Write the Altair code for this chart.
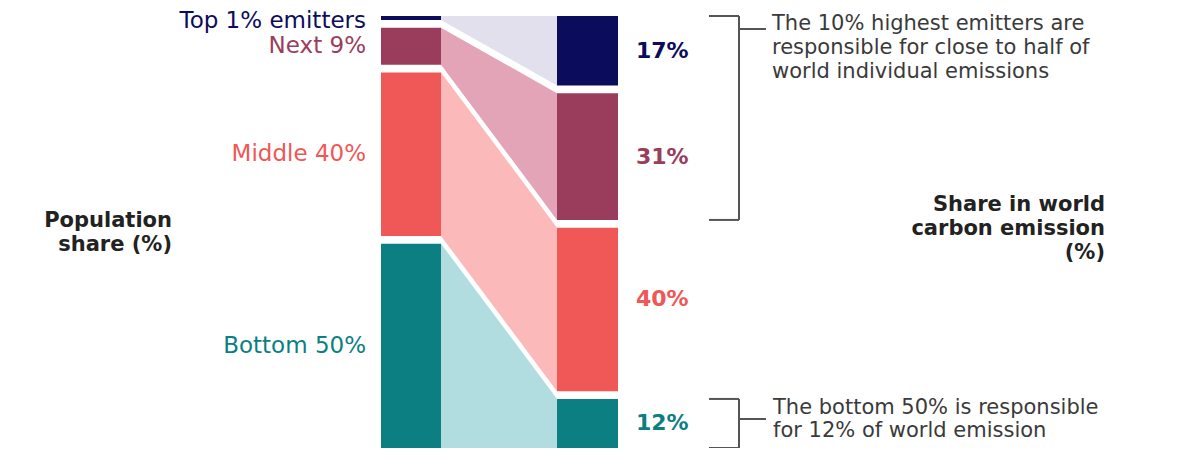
import altair as alt
import pandas as pd

# ---------------- data ----------------
groups = ["Top 1%", "Next 9%", "Middle 40%", "Bottom 50%"]
population_share = [1, 9, 40, 50]
emission_share = [17, 31, 40, 12]
group_labels = ["Top 1% emitters", "Next 9%", "Middle 40%", "Bottom 50%"]
emission_labels = ["17%", "31%", "40%", "12%"]
dark_colors = ["#0c0c5c", "#9a3d5d", "#f05757", "#0b7f82"]
light_colors = ["#e1e0ec", "#e3a4b8", "#fbbab9", "#b1dde0"]
left_title = ["Population", "share (%)"]
right_title = ["Share in world", "carbon emission", "(%)"]
note_top = ["The 10% highest emitters are",
            "responsible for close to half of",
            "world individual emissions"]
note_bottom = ["The bottom 50% is responsible",
               "for 12% of world emission"]

# ---------------- layout ----------------
W, H = 1187, 440
GAP = 1.9
TOTAL = 100 + 3 * GAP
TOP_PX = 8
K = (H - TOP_PX) / TOTAL
LEFT_X0, LEFT_X1 = 373, 433
RIGHT_X0, RIGHT_X1 = 549, 610
FONT = "DejaVu Sans"


def stack(values):
    tops, bottoms, pos = [], [], 0.0
    for v in values:
        tops.append(pos)
        bottoms.append(pos + v)
        pos += v + GAP
    return tops, bottoms


pt, pb = stack(population_share)
et, eb = stack(emission_share)

bars = pd.DataFrame(
    [dict(group=g, x0=LEFT_X0, x1=LEFT_X1, y0=pt[i], y1=pb[i],
          mid=(pt[i] + pb[i]) / 2, label=group_labels[i], side="pop")
     for i, g in enumerate(groups)]
    + [dict(group=g, x0=RIGHT_X0, x1=RIGHT_X1, y0=et[i], y1=eb[i],
            mid=(et[i] + eb[i]) / 2, label=emission_labels[i], side="emis")
       for i, g in enumerate(groups)]
)

flows = pd.DataFrame(
    [dict(group=g, x=LEFT_X1, y0=pt[i], y1=pb[i]) for i, g in enumerate(groups)]
    + [dict(group=g, x=RIGHT_X0, y0=et[i], y1=eb[i]) for i, g in enumerate(groups)]
)

brackets = pd.DataFrame([
    dict(name="top", y0=et[0], y1=eb[1]),
    dict(name="bottom", y0=et[3], y1=eb[3]),
])

xs = alt.Scale(domain=[0, W], range=[0, W])
ys = alt.Scale(domain=[-TOP_PX / K, TOTAL], reverse=True)
dark = alt.Scale(domain=groups, range=dark_colors)
light = alt.Scale(domain=groups, range=light_colors)

flow_layer = alt.Chart(flows).mark_area(opacity=1).encode(
    x=alt.X("x:Q", scale=xs, axis=None),
    y=alt.Y("y0:Q", scale=ys, axis=None, stack=None),
    y2="y1:Q",
    detail="group:N",
    color=alt.Color("group:N", scale=light, legend=None),
)

bar_layer = alt.Chart(bars).mark_rect().encode(
    x=alt.X("x0:Q", scale=xs, axis=None),
    x2="x1:Q",
    y=alt.Y("y0:Q", scale=ys, axis=None),
    y2="y1:Q",
    color=alt.Color("group:N", scale=dark, legend=None),
)

pop_base = alt.Chart(bars).transform_filter(alt.datum.side == "pop")
pop_labels = pop_base.transform_filter(alt.datum.group != groups[0]).mark_text(
    font=FONT, fontSize=23, align="right", baseline="middle"
).encode(
    x=alt.value(358),
    y=alt.Y("mid:Q", scale=ys, axis=None),
    text="label:N",
    color=alt.Color("group:N", scale=dark, legend=None),
)
pop_top_label = pop_base.transform_filter(alt.datum.group == groups[0]).mark_text(
    font=FONT, fontSize=23, align="right", baseline="middle", dy=3
).encode(
    x=alt.value(358),
    y=alt.Y("mid:Q", scale=ys, axis=None),
    text="label:N",
    color=alt.Color("group:N", scale=dark, legend=None),
)

em_base = alt.Chart(bars).transform_filter(alt.datum.side == "emis")
em_labels = em_base.transform_filter(alt.datum.group != groups[2]).mark_text(
    font=FONT, fontSize=22, fontWeight="bold", align="left", baseline="middle"
).encode(
    x=alt.value(628),
    y=alt.Y("mid:Q", scale=ys, axis=None),
    text="label:N",
    color=alt.Color("group:N", scale=dark, legend=None),
)
em_mid_label = em_base.transform_filter(alt.datum.group == groups[2]).mark_text(
    font=FONT, fontSize=22, fontWeight="bold", align="left", baseline="middle", dy=-10
).encode(
    x=alt.value(628),
    y=alt.Y("mid:Q", scale=ys, axis=None),
    text="label:N",
    color=alt.Color("group:N", scale=dark, legend=None),
)

BX = 731
RULE = dict(color="#555555", strokeWidth=2)
br_vert = alt.Chart(brackets).mark_rule(**RULE).encode(
    x=alt.value(BX), y=alt.Y("y0:Q", scale=ys, axis=None), y2="y1:Q")
br_top = alt.Chart(brackets).mark_rule(**RULE).encode(
    x=alt.value(BX - 30), x2=alt.value(BX), y=alt.Y("y0:Q", scale=ys, axis=None))
br_bot = alt.Chart(brackets).mark_rule(**RULE).encode(
    x=alt.value(BX - 30), x2=alt.value(BX), y=alt.Y("y1:Q", scale=ys, axis=None))
conn1 = alt.Chart().mark_rule(**RULE).encode(
    x=alt.value(BX), x2=alt.value(BX + 27), y=alt.value(21))
conn2 = alt.Chart().mark_rule(**RULE).encode(
    x=alt.value(BX), x2=alt.value(BX + 27), y=alt.value(411))

txt_top = alt.Chart().mark_text(
    text=note_top, font=FONT, fontSize=21, lineHeight=24, align="left",
    baseline="middle", color="#3a3a3a"
).encode(x=alt.value(764), y=alt.value(16))
txt_bot = alt.Chart().mark_text(
    text=note_bottom, font=FONT, fontSize=21, lineHeight=23, align="left",
    baseline="middle", color="#3a3a3a"
).encode(x=alt.value(765), y=alt.value(400))
title_right = alt.Chart().mark_text(
    text=right_title, font=FONT, fontSize=21, fontWeight="bold", lineHeight=24,
    align="right", baseline="middle", color="#222222"
).encode(x=alt.value(1097), y=alt.value(197))
title_left = alt.Chart().mark_text(
    text=left_title, font=FONT, fontSize=21, fontWeight="bold", lineHeight=24,
    align="right", baseline="middle", color="#222222"
).encode(x=alt.value(164), y=alt.value(213))

chart = alt.layer(
    flow_layer, bar_layer, pop_labels, pop_top_label, em_labels, em_mid_label,
    br_vert, br_top, br_bot, conn1, conn2, txt_top, txt_bot, title_right, title_left,
).resolve_scale(color="independent").properties(
    width=W, height=H, padding=0, autosize="none", background="white"
).configure_view(stroke=None)

chart.save("out.html", embed_options={"renderer": "svg", "actions": False})
